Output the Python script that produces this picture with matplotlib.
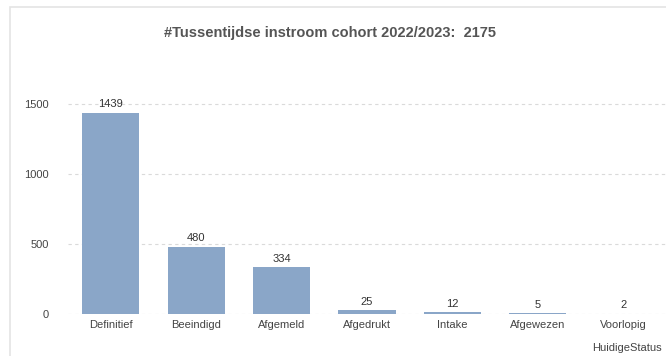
import matplotlib.pyplot as plt
from matplotlib.patches import Rectangle

statuses = ["Definitief", "Beeindigd", "Afgemeld", "Afgedrukt", "Intake", "Afgewezen", "Voorlopig"]
counts = [1439, 480, 334, 25, 12, 5, 2]
yticks = [0, 500, 1000, 1500]
title = "#Tussentijdse instroom cohort 2022/2023:  2175"

plt.rcParams['font.family'] = ['Liberation Sans', 'DejaVu Sans']

fig = plt.figure(figsize=(6.66, 3.56), dpi=100)
# light frame round the chart (left and top edges only visible)
fig.patches.append(Rectangle((10 / 666, -0.1), 1.2, 1.1 - 7 / 356, transform=fig.transFigure,
                             fill=False, edgecolor='#e4e4e4', linewidth=1.2))

ax = fig.add_axes([68 / 666, 1 - 314 / 356, 1 - 68 / 666, 254 / 356])
x = range(len(statuses))
bars = ax.bar(x, counts, width=0.67, color='#8aa6c8', zorder=2)
for b, v in zip(bars, counts):
    ax.text(b.get_x() + b.get_width() / 2, v + 25, str(v), ha='center', va='bottom',
            fontsize=8, color='#333333')

ax.set_xlim(-0.5, 6.5)
ax.set_ylim(0, 1814)
ax.set_yticks(yticks)
ax.set_xticks(list(x))
ax.set_xticklabels(statuses)
ax.tick_params(axis='both', length=0, labelsize=8, colors='#444444')
ax.tick_params(axis='x', pad=4)
ax.tick_params(axis='y', pad=14)
ax.grid(axis='y', linestyle=(0, (3, 3)), color='#dadada', linewidth=0.8, zorder=0)
for s in ax.spines.values():
    s.set_visible(False)

fig.text(662 / 666, 1 - 348 / 356, "HuidigeStatus", ha='right', va='center',
         fontsize=8, color='#444444')
fig.text(330 / 666, 1 - 33 / 356, title, ha='center', va='center', fontsize=10.5,
         fontweight='bold', color='#555555')

fig.savefig("out.png", dpi=100)
